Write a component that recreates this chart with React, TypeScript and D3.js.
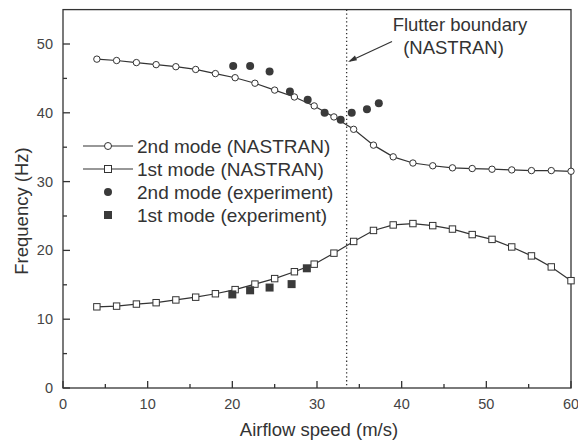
import React from "react";
import * as d3 from "d3";

const speedNastran = [4, 6.33, 8.67, 11, 13.33, 15.67, 18, 20.33, 22.67, 25, 27.33, 29.67, 32, 34.33, 36.67, 39, 41.33, 43.67, 46, 48.33, 50.67, 53, 55.33, 57.67, 60];
const mode2Nastran = [47.8, 47.6, 47.3, 47.0, 46.7, 46.3, 45.7, 45.1, 44.3, 43.3, 42.3, 41.0, 39.4, 37.6, 35.3, 33.6, 32.7, 32.3, 32.0, 31.9, 31.8, 31.7, 31.6, 31.6, 31.5];
const mode1Nastran = [11.8, 11.9, 12.2, 12.4, 12.8, 13.2, 13.7, 14.3, 15.1, 15.9, 16.9, 18.0, 19.6, 21.3, 22.9, 23.7, 23.9, 23.6, 23.1, 22.3, 21.6, 20.5, 19.2, 17.6, 15.6];

const speedExp2 = [20.1, 22.1, 24.4, 26.8, 28.9, 30.9, 32.8, 34.1, 35.9, 37.3];
const mode2Exp = [46.8, 46.8, 46.0, 43.1, 41.9, 40.0, 39.0, 40.0, 40.5, 41.4];
const speedExp1 = [20.0, 22.1, 24.4, 27.0, 28.8];
const mode1Exp = [13.6, 14.2, 14.6, 15.1, 17.4];

const xTicks = [0, 10, 20, 30, 40, 50, 60];
const xMinor = [5, 15, 25, 35, 45, 55];
const yTicks = [0, 10, 20, 30, 40, 50];
const yMinor = [5, 15, 25, 35, 45];
const flutterSpeed = 33.5;

const legendLabels = ["2nd mode (NASTRAN)", "1st mode (NASTRAN)", "2nd mode (experiment)", "1st mode (experiment)"];

const INK = "#333";
const FONT = "Liberation Sans, Arial, sans-serif";
const FS = 18.5;

export default function App() {
  const left = 63, right = 571, top = 9.6, bottom = 388;
  const x = d3.scaleLinear().domain([0, 60]).range([left, right]);
  const y = d3.scaleLinear().domain([0, 55]).range([bottom, top]);

  const line = d3.line<[number, number]>().x(d => x(d[0])).y(d => y(d[1]));
  const pts2 = speedNastran.map((s, i) => [s, mode2Nastran[i]] as [number, number]);
  const pts1 = speedNastran.map((s, i) => [s, mode1Nastran[i]] as [number, number]);

  const legY = [146, 169, 192, 215];
  const legX0 = 83, legX1 = 133, legM = 108, legT = 137;

  return (
    <svg width={578} height={443} style={{ position: "absolute", left: 0, top: 0, background: "#fff" }} fontFamily={FONT}>
      <rect x={0} y={0} width={578} height={443} fill="#fff" />
      <rect x={left} y={top} width={right - left} height={bottom - top} fill="none" stroke={INK} strokeWidth={1.3} />
      {xTicks.map(t => (
        <g key={"xt" + t}>
          <line x1={x(t)} x2={x(t)} y1={bottom} y2={bottom - 7} stroke={INK} strokeWidth={1.3} />
          <text x={x(t)} y={409} textAnchor="middle" fontSize={14.5} fill="#444">{t}</text>
        </g>
      ))}
      {xMinor.map(t => (
        <line key={"xm" + t} x1={x(t)} x2={x(t)} y1={bottom} y2={bottom - 4} stroke={INK} strokeWidth={1.3} />
      ))}
      {yTicks.map(t => (
        <g key={"yt" + t}>
          <line x1={left} x2={left + 7} y1={y(t)} y2={y(t)} stroke={INK} strokeWidth={1.3} />
          <text x={53} y={y(t) + 5} textAnchor="end" fontSize={14.5} fill="#444">{t}</text>
        </g>
      ))}
      {yMinor.map(t => (
        <line key={"ym" + t} x1={left} x2={left + 4} y1={y(t)} y2={y(t)} stroke={INK} strokeWidth={1.3} />
      ))}
      <text x={319} y={436} textAnchor="middle" fontSize={FS} fill="#333">Airflow speed (m/s)</text>
      <text transform="translate(28,211) rotate(-90)" textAnchor="middle" fontSize={FS} fill="#333">Frequency (Hz)</text>

      <line x1={x(flutterSpeed)} x2={x(flutterSpeed)} y1={top} y2={bottom} stroke={INK} strokeWidth={1.3} strokeDasharray="1.3,2.6" />
      <text x={460} y={31} textAnchor="middle" fontSize={FS} fill="#333">Flutter boundary</text>
      <text x={453.5} y={54} textAnchor="middle" fontSize={FS} fill="#333">(NASTRAN)</text>
      <line x1={392} y1={41.5} x2={350} y2={61} stroke={INK} strokeWidth={1.2} />
      <path d="M348,62 L355,55.5 L357,60.3 Z" fill={INK} />

      <path d={line(pts2) || ""} fill="none" stroke={INK} strokeWidth={1.2} />
      <path d={line(pts1) || ""} fill="none" stroke={INK} strokeWidth={1.2} />
      {pts2.map((p, i) => (
        <circle key={"c2" + i} cx={x(p[0])} cy={y(p[1])} r={3.2} fill="#fff" stroke={INK} strokeWidth={1} />
      ))}
      {pts1.map((p, i) => (
        <rect key={"s1" + i} x={x(p[0]) - 3.2} y={y(p[1]) - 3.2} width={6.4} height={6.4} fill="#fff" stroke={INK} strokeWidth={1} />
      ))}
      {speedExp2.map((s, i) => (
        <circle key={"e2" + i} cx={x(s)} cy={y(mode2Exp[i])} r={4} fill="#3a3a3a" />
      ))}
      {speedExp1.map((s, i) => (
        <rect key={"e1" + i} x={x(s) - 4} y={y(mode1Exp[i]) - 4} width={8} height={8} fill="#3a3a3a" />
      ))}

      <line x1={legX0} x2={legX1} y1={legY[0]} y2={legY[0]} stroke={INK} strokeWidth={1.2} />
      <circle cx={legM} cy={legY[0]} r={3.5} fill="#fff" stroke={INK} strokeWidth={1} />
      <line x1={legX0} x2={legX1} y1={legY[1]} y2={legY[1]} stroke={INK} strokeWidth={1.2} />
      <rect x={legM - 3.5} y={legY[1] - 3.5} width={7} height={7} fill="#fff" stroke={INK} strokeWidth={1} />
      <circle cx={legM} cy={legY[2]} r={4} fill="#3a3a3a" />
      <rect x={legM - 4} y={legY[3] - 4} width={8} height={8} fill="#3a3a3a" />
      {legendLabels.map((t, i) => (
        <text key={"lg" + i} x={legT} y={legY[i] + 6.5} fontSize={19} fill="#333">{t}</text>
      ))}
    </svg>
  );
}
